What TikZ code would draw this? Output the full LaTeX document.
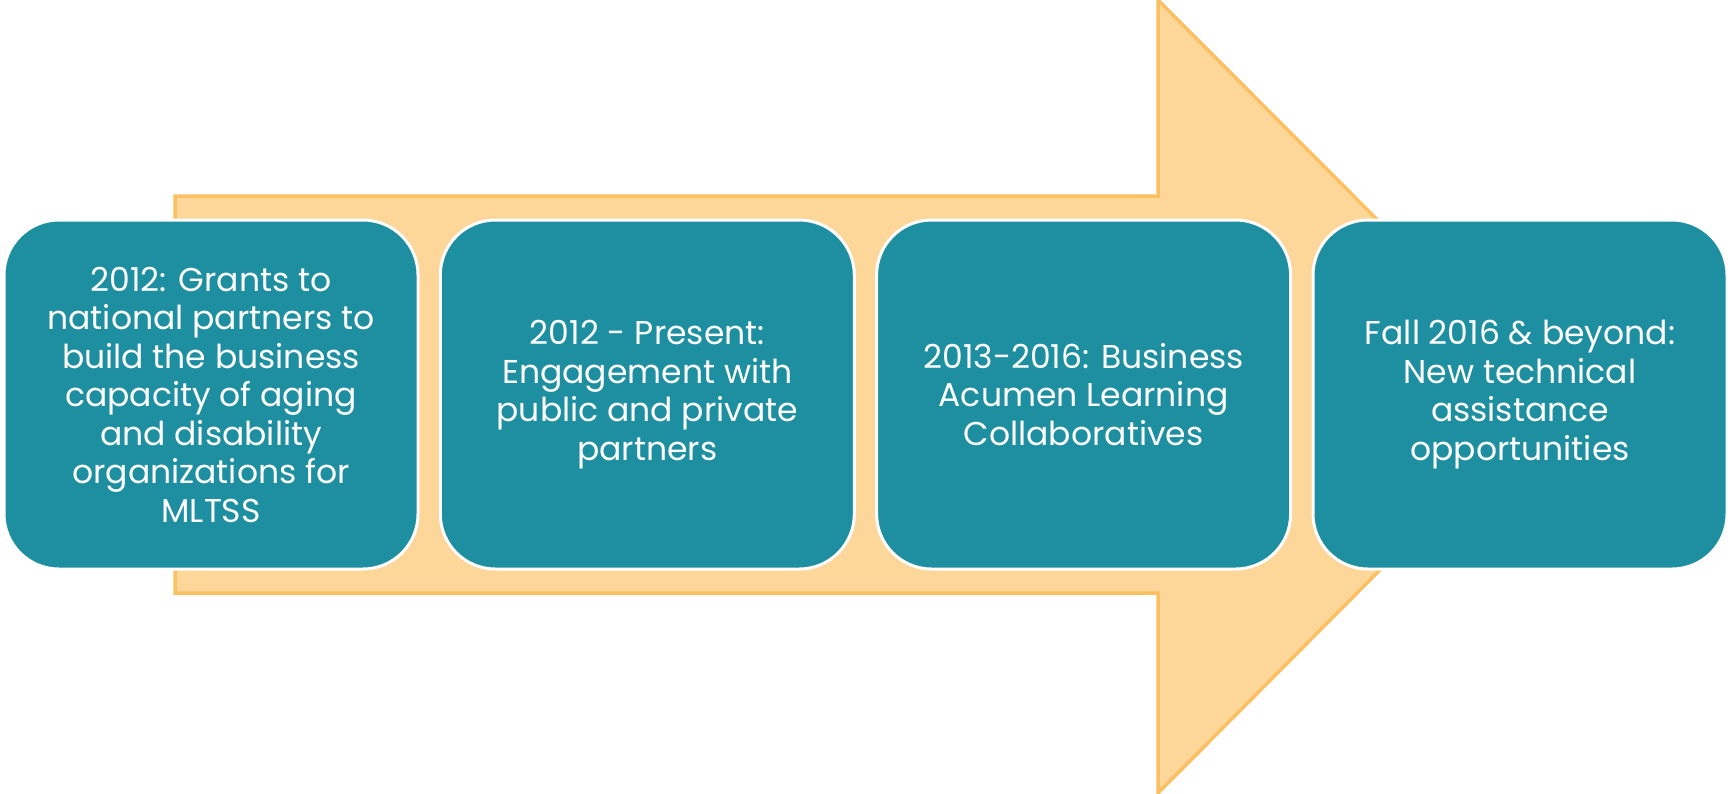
\documentclass[tikz,border=0pt]{standalone}
\usepackage{fontspec}
\setmainfont{Poppins}
\definecolor{teal1}{RGB}{29,143,160}
\definecolor{arrowfill}{RGB}{253,214,153}
\definecolor{arrowline}{RGB}{252,192,98}
\tikzset{
  stagebox/.style={draw=white, line width=3pt, fill=teal1, rounded corners=55pt,
    minimum width=414pt, minimum height=349pt, text=white, align=center,
    font=\fontsize{33}{38.5}\selectfont, inner sep=0pt},
  bigarrow/.style={fill=arrowfill, draw=arrowline, line width=3.5pt, line join=miter}
}
\begin{document}
\begin{tikzpicture}[x=1pt,y=-1pt]
\useasboundingbox (0,0) rectangle (1728,793);
\draw[bigarrow] (175,196) -- (1158,196) -- (1158,0) -- (1553,396) -- (1158,793) -- (1158,593) -- (175,593) -- cycle;
\node[stagebox] (b1) at (211,394.5) {2012: Grants to\\national partners to\\build the business\\capacity of aging\\and disability\\organizations for\\MLTSS};
\node[stagebox] (b2) at (647.3,394.5) {2012 - Present:\\Engagement with\\public and private\\partners};
\node[stagebox] (b3) at (1083.6,394.5) {2013-2016: Business\\Acumen Learning\\Collaboratives};
\node[stagebox] (b4) at (1520,394.5) {Fall 2016 \& beyond:\\New technical\\assistance\\opportunities};
\end{tikzpicture}
\end{document}
